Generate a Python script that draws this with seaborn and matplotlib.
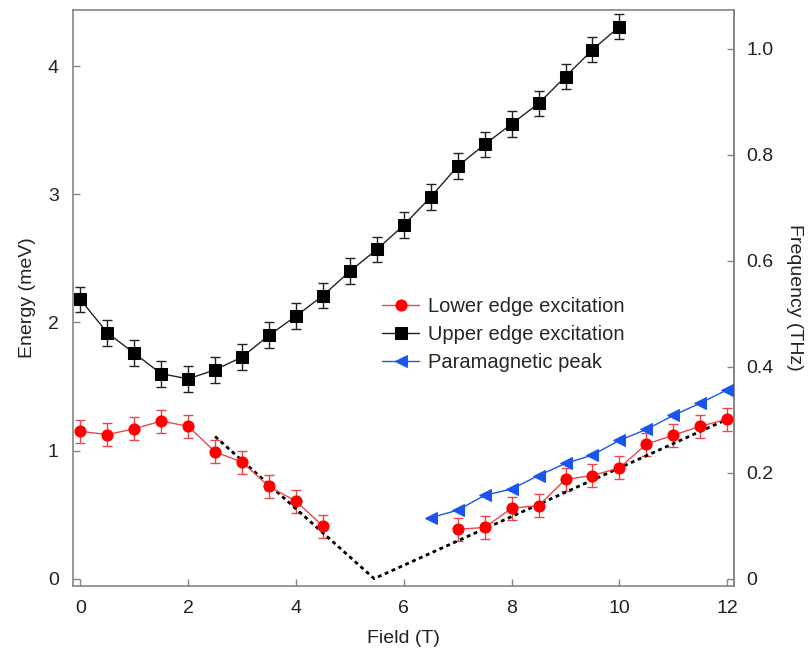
import numpy as np
import pandas as pd
import matplotlib
matplotlib.use("Agg")
import matplotlib.pyplot as plt
import seaborn as sns
from matplotlib.ticker import FixedLocator, FuncFormatter

# ---- data ----
field_upper = [0, 0.5, 1, 1.5, 2, 2.5, 3, 3.5, 4, 4.5, 5, 5.5, 6, 6.5, 7, 7.5, 8, 8.5, 9, 9.5, 10]
energy_upper = [2.18, 1.92, 1.76, 1.60, 1.56, 1.63, 1.73, 1.90, 2.05, 2.21, 2.40, 2.57, 2.76,
                2.98, 3.22, 3.39, 3.55, 3.71, 3.92, 4.13, 4.31]
err_upper = [0.10] * len(field_upper)

field_lower = [0, 0.5, 1, 1.5, 2, 2.5, 3, 3.5, 4, 4.5,
               7, 7.5, 8, 8.5, 9, 9.5, 10, 10.5, 11, 11.5, 12]
energy_lower = [1.15, 1.125, 1.17, 1.23, 1.19, 0.99, 0.91, 0.72, 0.605, 0.41,
                0.385, 0.40, 0.55, 0.57, 0.775, 0.805, 0.865, 1.05, 1.12, 1.19, 1.245]
err_lower = [0.09] * len(field_lower)

field_para = [6.5, 7, 7.5, 8, 8.5, 9, 9.5, 10, 10.5, 11, 11.5, 12]
energy_para = [0.475, 0.535, 0.65, 0.70, 0.805, 0.90, 0.965, 1.08, 1.165, 1.275, 1.37, 1.475]

# dashed guide (piecewise linear)
field_guide = [2.5, 5.45, 12]
energy_guide = [1.11, 0.0, 1.245]

meV_to_THz = 0.2418

RED = "#ff0000"
RED_LINE = "#e8474c"
BLUE = "#1a55f0"
GRAY = "#858585"

sns.set_theme(style="ticks")
plt.rcParams["font.family"] = ["Liberation Sans", "DejaVu Sans"]

fig = plt.figure(figsize=(8.11, 6.52), dpi=100)
ax = fig.add_axes([0.0904, 0.1017, 0.815, 0.883])

df_up = pd.DataFrame({"Field": field_upper, "Energy": energy_upper})
df_lo1 = pd.DataFrame({"Field": field_lower[:10], "Energy": energy_lower[:10]})
df_lo2 = pd.DataFrame({"Field": field_lower[10:], "Energy": energy_lower[10:]})
df_pa = pd.DataFrame({"Field": field_para, "Energy": energy_para})
df_gd = pd.DataFrame({"Field": field_guide, "Energy": energy_guide})

# dashed guide
ax.plot(df_gd["Field"], df_gd["Energy"], color="black", lw=2.0,
        linestyle=(0, (1.4, 1.3)), zorder=3)

# error bars
ax.errorbar(field_lower, energy_lower, yerr=err_lower, fmt="none",
            ecolor=RED_LINE, elinewidth=1.0, capsize=3.6, capthick=1.0, zorder=2)
ax.errorbar(field_upper, energy_upper, yerr=err_upper, fmt="none",
            ecolor="#222222", elinewidth=1.0, capsize=3.4, capthick=1.0, zorder=2)

# series lines + markers
sns.lineplot(data=df_lo1, x="Field", y="Energy", ax=ax, color=RED_LINE, lw=1.0,
             marker="o", markersize=8, markerfacecolor=RED, markeredgecolor=RED,
             label="Lower edge excitation", zorder=4, sort=False)
sns.lineplot(data=df_lo2, x="Field", y="Energy", ax=ax, color=RED_LINE, lw=1.0,
             marker="o", markersize=8, markerfacecolor=RED, markeredgecolor=RED,
             zorder=4, sort=False)
sns.lineplot(data=df_up, x="Field", y="Energy", ax=ax, color="#222222", lw=1.0,
             marker="s", markersize=8, markerfacecolor="black", markeredgecolor="black",
             label="Upper edge excitation", zorder=4, sort=False)
sns.lineplot(data=df_pa, x="Field", y="Energy", ax=ax, color=BLUE, lw=1.0,
             marker="<", markersize=9, markerfacecolor=BLUE, markeredgecolor=BLUE,
             label="Paramagnetic peak", zorder=4, sort=False)

ax.set_xlim(-0.13, 12.13)
ax.set_ylim(-0.055, 4.44)
ax.xaxis.set_major_locator(FixedLocator([0, 2, 4, 6, 8, 10, 12]))
ax.yaxis.set_major_locator(FixedLocator([0, 1, 2, 3, 4]))

for s in ax.spines.values():
    s.set_color(GRAY)
    s.set_linewidth(1.2)
    s.set_visible(True)

ax.tick_params(direction="in", length=5, width=1.0, color=GRAY,
               labelsize=14, labelcolor="#222222", pad=10.5)
ax.set_xlabel("Field (T)", fontsize=14, color="#222222", labelpad=9)
ax.set_ylabel("Energy (meV)", fontsize=14, color="#222222", labelpad=8.5)

sec = ax.secondary_yaxis("right", functions=(lambda e: e * meV_to_THz,
                                             lambda f: f / meV_to_THz))
sec.yaxis.set_major_locator(FixedLocator([0, 0.2, 0.4, 0.6, 0.8, 1.0]))
sec.yaxis.set_major_formatter(FuncFormatter(lambda v, p: "0" if abs(v) < 1e-9 else f"{v:.1f}"))
sec.tick_params(direction="in", length=5, width=1.0, color=GRAY,
                labelsize=14, labelcolor="#222222", pad=8.5)
sec.spines["right"].set_color(GRAY)
sec.spines["right"].set_linewidth(1.2)
sec.set_ylabel("Frequency (THz)", fontsize=14, color="#222222", rotation=270, labelpad=21)

leg = ax.legend(loc="upper left", bbox_to_anchor=(0.455, 0.515), frameon=False,
                fontsize=14.5, handlelength=1.85, handletextpad=0.45, labelspacing=0.45,
                borderaxespad=0)

fig.savefig("out.png", dpi=100)
